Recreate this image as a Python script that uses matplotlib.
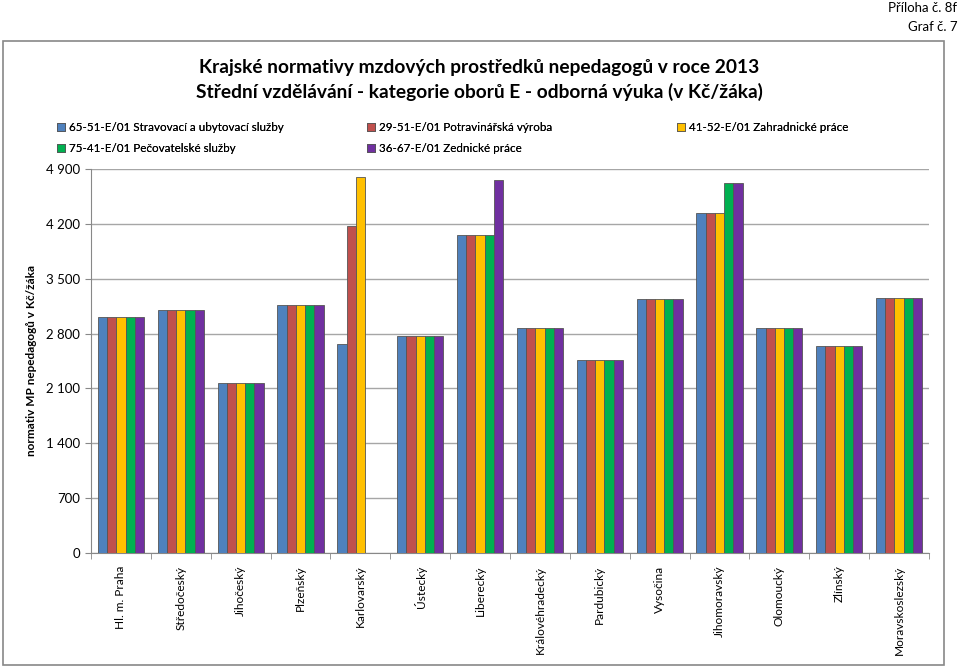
import numpy as np
import matplotlib
matplotlib.use("Agg")
import matplotlib.pyplot as plt
from matplotlib.patches import Rectangle

plt.rcParams['font.family'] = ['Lato', 'DejaVu Sans']

kraje = ["Hl. m. Praha", "Středočeský", "Jihočeský", "Plzeňský", "Karlovarský",
         "Ústecký", "Liberecký", "Královéhradecký", "Pardubický", "Vysočina",
         "Jihomoravský", "Olomoucký", "Zlínský", "Moravskoslezský"]

obor_65 = [3016, 3098, 2173, 3165, 2673, 2771, 4064, 2876, 2465, 3238, 4340, 2873, 2640, 3250]
obor_29 = [3016, 3098, 2173, 3165, 4171, 2771, 4064, 2876, 2465, 3238, 4340, 2873, 2640, 3250]
obor_41 = [3016, 3098, 2173, 3165, 4798, 2771, 4064, 2876, 2465, 3238, 4340, 2873, 2640, 3250]
obor_75 = [3016, 3098, 2173, 3165, np.nan, 2771, 4064, 2876, 2465, 3238, 4722, 2873, 2640, 3250]
obor_36 = [3016, 3098, 2173, 3165, np.nan, 2771, 4756, 2876, 2465, 3238, 4722, 2873, 2640, 3250]

nazvy = ["65-51-E/01 Stravovací a ubytovací služby",
         "29-51-E/01 Potravinářská výroba",
         "41-52-E/01 Zahradnické práce",
         "75-41-E/01 Pečovatelské služby",
         "36-67-E/01 Zednické práce"]
barvy = ["#4F81BD", "#C0504D", "#FFC000", "#00B050", "#7030A0"]

yticks = [0, 700, 1400, 2100, 2800, 3500, 4200, 4900]

fig = plt.figure(figsize=(9.59, 6.68), dpi=100)
ax = fig.add_axes([91/959, 1 - 553/668, (929 - 91)/959, (553 - 169)/668])

x = np.arange(len(kraje))
w = 0.154
serie = [obor_65, obor_29, obor_41, obor_75, obor_36]
handles = []
for i, (s, c) in enumerate(zip(serie, barvy)):
    h = ax.bar(x + (i - 2) * w, s, w, color=c, edgecolor="#555555", linewidth=0.6,
               label=nazvy[i], zorder=3)
    handles.append(h)

ax.set_xlim(-0.5, len(kraje) - 0.5)
ax.set_ylim(0, 4900)
ax.set_yticks(yticks)
ax.set_yticklabels([f"{v:,}".replace(",", " ") for v in yticks], fontsize=9.5)
ax.yaxis.grid(True, color="#A6A6A6", linewidth=1.0, zorder=0)
ax.set_axisbelow(True)

ax.set_xticks(x)
ax.set_xticklabels(kraje, rotation=90, fontsize=8.6, va="top")
ax.set_xticks(np.arange(len(kraje) + 1) - 0.5, minor=True)
ax.tick_params(axis="x", which="major", length=0, pad=9)
ax.tick_params(axis="x", which="minor", length=4, color="#888888")
ax.tick_params(axis="y", length=4, color="#888888", pad=4)

for sp in ["top", "right"]:
    ax.spines[sp].set_visible(False)
for sp in ["left", "bottom"]:
    ax.spines[sp].set_color("#888888")

ax.set_ylabel("normativ MP nepedagogů v Kč/žáka", fontsize=8.5, fontweight="bold", labelpad=6)

fig.text(0.5 + 0.0, 1 - 67/668, "Krajské normativy mzdových prostředků nepedagogů v roce 2013",
         ha="center", va="center", fontsize=13.8, fontweight="bold")
fig.text(0.5, 1 - 92/668, "Střední vzdělávání - kategorie oborů E - odborná výuka (v Kč/žáka)",
         ha="center", va="center", fontsize=13.8, fontweight="bold")

fig.text(957/959, 1 - 8/668, "Příloha č. 8f", ha="right", va="center", fontsize=9.5)
fig.text(957/959, 1 - 27/668, "Graf č. 7", ha="right", va="center", fontsize=9.5)

# legenda po radcich: tri sloupce
sloupce = [[0, 3], [1, 4], [2]]
leg_x = [57, 367, 677]
for xs, idx in zip(leg_x, sloupce):
    lg = fig.legend(handles=[handles[k] for k in idx], loc="upper left",
                    bbox_to_anchor=(xs/959, 1 - 122/668), ncol=1, frameon=False,
                    fontsize=8.4, handlelength=0.7, handleheight=0.7,
                    handletextpad=0.35, labelspacing=0.85, borderpad=0, borderaxespad=0)
    fig.add_artist(lg)

fig.add_artist(Rectangle((3/959, 3/668), (944 - 3)/959, (665 - 41)/668,
                         transform=fig.transFigure, fill=False,
                         edgecolor="#888888", linewidth=1.2))

fig.savefig("out.png", dpi=100)
